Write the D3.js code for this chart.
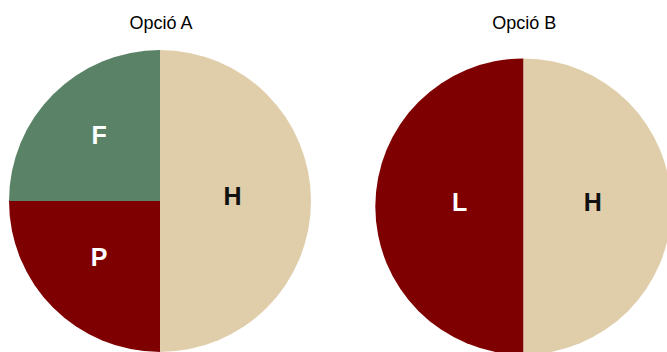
<!DOCTYPE html>
<html>
<head>
<meta charset="utf-8">
<script src="https://cdn.jsdelivr.net/npm/d3@7"></script>
<style>
  html, body { margin: 0; padding: 0; background: #fff; }
  svg { display: block; font-family: "Liberation Sans", Arial, sans-serif; }
</style>
</head>
<body>
<svg id="chart" width="667" height="352"></svg>
<script>
// ── dades ─────────────────────────────────────────────
const pieTitles  = ["Opció A", "Opció B"];
const labelsA    = ["H", "P", "F"];
const valuesA    = [50, 25, 25];
const labelsB    = ["H", "L"];
const valuesB    = [50, 50];

// ── estil ─────────────────────────────────────────────
const COLORS = { H: "#E0CEAB", F: "#5A8266", P: "#7F0000", L: "#7F0000" };
const TEXT_COLOR = { H: "#111", F: "#fff", P: "#fff", L: "#fff" };

const pies = [
  { title: pieTitles[0], labels: labelsA, values: valuesA, cx: 160, cy: 201, r: 151,
    labelDist: { H: 0.48, P: 0.57, F: 0.57 } },
  { title: pieTitles[1], labels: labelsB, values: valuesB, cx: 523.3, cy: 206.5, r: 148,
    labelDist: { H: 0.47, L: 0.43 } },
];

const svg = d3.select("#chart");

// inici a les 12 en sentit horari; primer tall (H) a la dreta
const pie = d3.pie().sort(null).value(d => d.v);

pies.forEach(p => {
  const data = p.labels.map((l, i) => ({ l, v: p.values[i] }));
  const arcs = pie(data);
  const arc  = d3.arc().innerRadius(0).outerRadius(p.r);

  const g = svg.append("g").attr("transform", `translate(${p.cx},${p.cy})`);

  g.selectAll("path.slice")
    .data(arcs)
    .join("path")
    .attr("class", "slice")
    .attr("d", arc)
    .attr("fill", d => COLORS[d.data.l]);

  g.selectAll("text.lbl")
    .data(arcs)
    .join("text")
    .attr("class", "lbl")
    .attr("x", d => {
      const a = (d.startAngle + d.endAngle) / 2;
      return Math.sin(a) * p.r * p.labelDist[d.data.l];
    })
    .attr("y", d => {
      const a = (d.startAngle + d.endAngle) / 2;
      return -Math.cos(a) * p.r * p.labelDist[d.data.l] - 5;
    })
    .attr("text-anchor", "middle")
    .attr("dominant-baseline", "central")
    .attr("font-size", 25)
    .attr("font-weight", "bold")
    .attr("fill", d => TEXT_COLOR[d.data.l])
    .text(d => d.data.l);

  svg.append("text")
    .attr("x", p.cx + 1)
    .attr("y", 29)
    .attr("text-anchor", "middle")
    .attr("font-size", 18)
    .attr("fill", "#000")
    .text(p.title);
});
</script>
</body>
</html>
